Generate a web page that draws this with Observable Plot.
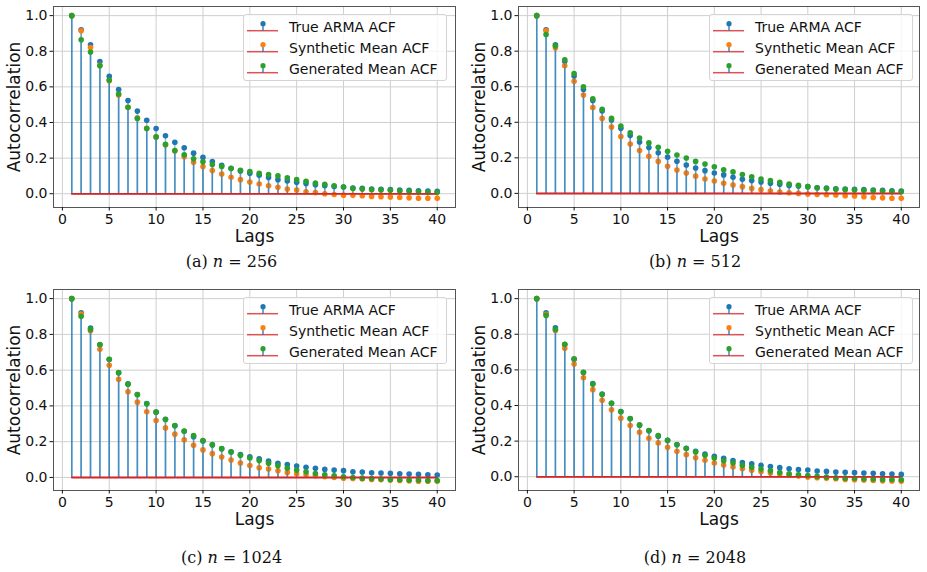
<!DOCTYPE html>
<html>
<head>
<meta charset="utf-8">
<script src="https://cdn.jsdelivr.net/npm/d3@7"></script>
<script src="https://cdn.jsdelivr.net/npm/@observablehq/plot@0.6"></script>
<style>
  html, body { margin: 0; padding: 0; background: #fff; }
  #fig { position: relative; width: 927px; height: 572px; background: #fff; font-family: "DejaVu Sans", sans-serif; }
  .panel { position: absolute; }
  .panel svg { overflow: visible; }
  .legend { position: absolute; top: 14px; width: 204px; box-sizing: border-box; border: 1px solid #d4d4d4; border-radius: 3px; background: rgba(255,255,255,0.8); padding: 1px 0 1px 3px; }
  .legend .row { display: flex; align-items: center; height: 21px; font-size: 14px; color: #111; }
  .legend svg { margin-right: 11px; flex: none; }
  .caption { position: absolute; width: 300px; text-align: center; font-family: "DejaVu Serif", "Liberation Serif", serif; font-size: 16px; color: #111; white-space: nowrap; }
</style>
</head>
<body>
<div id="fig"></div>
<script>
// Lags 1..40 of the autocorrelation function
const lags = [1, 2, 3, 4, 5, 6, 7, 8, 9, 10, 11, 12, 13, 14, 15, 16, 17, 18, 19, 20,
              21, 22, 23, 24, 25, 26, 27, 28, 29, 30, 31, 32, 33, 34, 35, 36, 37, 38, 39, 40];

// Theoretical ACF of the ARMA process (same for every sample length)
const trueAcf = [1.0, 0.921, 0.836, 0.742, 0.660, 0.585, 0.523, 0.464, 0.413, 0.366,
                 0.325, 0.289, 0.258, 0.228, 0.204, 0.181, 0.160, 0.143, 0.128, 0.115,
                 0.104, 0.091, 0.079, 0.072, 0.064, 0.057, 0.051, 0.045, 0.041, 0.038,
                 0.032, 0.030, 0.026, 0.025, 0.023, 0.021, 0.019, 0.017, 0.015, 0.013];

// Mean ACF of the synthetic series, per sample length n
const synthetic256 = [1.0, 0.915, 0.821, 0.721, 0.634, 0.555, 0.485, 0.425, 0.368, 0.319,
                      0.275, 0.240, 0.208, 0.177, 0.153, 0.130, 0.111, 0.092, 0.079, 0.066,
                      0.055, 0.045, 0.036, 0.026, 0.021, 0.011, 0.006, 0.000, -0.004, -0.008,
                      -0.009, -0.011, -0.015, -0.017, -0.019, -0.021, -0.023, -0.025, -0.025, -0.026];
const synthetic512 = [1.0, 0.915, 0.820, 0.718, 0.631, 0.553, 0.483, 0.422, 0.373, 0.320,
                      0.278, 0.241, 0.208, 0.180, 0.153, 0.131, 0.114, 0.097, 0.081, 0.070,
                      0.057, 0.047, 0.038, 0.028, 0.021, 0.013, 0.008, 0.004, 0.000, -0.004,
                      -0.006, -0.008, -0.009, -0.013, -0.015, -0.019, -0.023, -0.025, -0.027, -0.028];
const synthetic1024 = [1.0, 0.914, 0.820, 0.717, 0.627, 0.549, 0.479, 0.421, 0.367, 0.318,
                       0.277, 0.242, 0.210, 0.180, 0.154, 0.133, 0.114, 0.097, 0.081, 0.067,
                       0.054, 0.047, 0.037, 0.028, 0.021, 0.015, 0.009, 0.004, 0.000, -0.004,
                       -0.006, -0.009, -0.011, -0.013, -0.015, -0.017, -0.019, -0.021, -0.021, -0.022];
const synthetic2048 = [1.0, 0.912, 0.821, 0.722, 0.633, 0.556, 0.489, 0.429, 0.376, 0.329,
                       0.288, 0.250, 0.216, 0.190, 0.165, 0.143, 0.124, 0.107, 0.092, 0.077,
                       0.066, 0.055, 0.045, 0.036, 0.028, 0.021, 0.015, 0.009, 0.004, -0.002,
                       -0.006, -0.009, -0.011, -0.015, -0.017, -0.019, -0.021, -0.023, -0.024, -0.026];

// Mean ACF of the generated series, per sample length n
const generated256 = [1.0, 0.864, 0.796, 0.719, 0.638, 0.560, 0.485, 0.423, 0.366, 0.319,
                      0.277, 0.243, 0.219, 0.196, 0.179, 0.164, 0.153, 0.142, 0.132, 0.125,
                      0.115, 0.108, 0.100, 0.089, 0.079, 0.070, 0.060, 0.053, 0.045, 0.038,
                      0.030, 0.026, 0.023, 0.021, 0.019, 0.015, 0.013, 0.011, 0.009, 0.008];
const generated512 = [1.0, 0.894, 0.830, 0.752, 0.674, 0.600, 0.532, 0.473, 0.422, 0.379,
                      0.341, 0.311, 0.284, 0.259, 0.237, 0.216, 0.199, 0.180, 0.165, 0.150,
                      0.133, 0.121, 0.106, 0.093, 0.081, 0.072, 0.063, 0.053, 0.045, 0.038,
                      0.032, 0.027, 0.023, 0.021, 0.019, 0.017, 0.015, 0.013, 0.011, 0.009];
const generated1024 = [1.0, 0.901, 0.828, 0.743, 0.661, 0.586, 0.521, 0.463, 0.412, 0.365,
                       0.324, 0.290, 0.260, 0.234, 0.206, 0.184, 0.161, 0.142, 0.124, 0.109,
                       0.094, 0.079, 0.066, 0.052, 0.041, 0.032, 0.022, 0.015, 0.009, 0.004,
                       0.000, -0.004, -0.006, -0.009, -0.011, -0.013, -0.015, -0.015, -0.017, -0.017];
const generated2048 = [1.0, 0.906, 0.827, 0.744, 0.662, 0.586, 0.519, 0.462, 0.412, 0.365,
                       0.327, 0.291, 0.259, 0.231, 0.205, 0.180, 0.158, 0.139, 0.120, 0.105,
                       0.090, 0.077, 0.064, 0.053, 0.043, 0.034, 0.024, 0.017, 0.011, 0.006,
                       0.002, -0.002, -0.006, -0.008, -0.009, -0.011, -0.013, -0.015, -0.015, -0.017];

// Axis ticks, axis titles, series names, panel letters and sample lengths
const xTicks = [0, 5, 10, 15, 20, 25, 30, 35, 40];
const yTicks = [0.0, 0.2, 0.4, 0.6, 0.8, 1.0];
const xTitle = "Lags";
const yTitle = "Autocorrelation";
const seriesNames = ["True ARMA ACF", "Synthetic Mean ACF", "Generated Mean ACF"];
const panelLetters = ["a", "b", "c", "d"];
const sampleSizes = [256, 512, 1024, 2048];

const markerColors = ["#1f77b4", "#ff7f0e", "#2ca02c"];
const stemColor = "#1f77b4";
const baseColor = "#d62728";

const syntheticByPanel = [synthetic256, synthetic512, synthetic1024, synthetic2048];
const generatedByPanel = [generated256, generated512, generated1024, generated2048];

// Grid placement of the four subplots
const layout = [
  {left: 0,   top: 0,   width: 463, marginLeft: 53, capX: 231.5, capY: 252, legendLeft: 243},
  {left: 463, top: 0,   width: 464, marginLeft: 55, capX: 232,   capY: 252, legendLeft: 246},
  {left: 0,   top: 283, width: 463, marginLeft: 53, capX: 231.5, capY: 265, legendLeft: 243},
  {left: 463, top: 283, width: 464, marginLeft: 55, capX: 232,   capY: 265, legendLeft: 246}
];

const fig = document.getElementById("fig");

function rowsOf(values) {
  return lags.map((lag, i) => ({lag, v: values[i]}));
}

function stemMarks(rows, color) {
  return [
    Plot.ruleX(rows, {x: "lag", y1: 0, y2: "v", stroke: stemColor, strokeWidth: 1.5, strokeOpacity: 0.45}),
    Plot.dot(rows, {x: "lag", y: "v", r: 2.8, fill: color, stroke: "none"}),
    Plot.ruleY([0], {x1: d3.min(lags), x2: d3.max(lags), stroke: baseColor, strokeWidth: 1.5, strokeOpacity: 0.85})
  ];
}

layout.forEach((L, p) => {
  const series = [trueAcf, syntheticByPanel[p], generatedByPanel[p]];
  const lagSpan = d3.max(lags) - d3.min(lags);
  const allVals = series.flat();
  const vSpan = d3.max(allVals) - d3.min(allVals);

  const chart = Plot.plot({
    width: L.width,
    height: 250,
    marginLeft: L.marginLeft,
    marginRight: 8,
    marginTop: 6,
    marginBottom: 43,
    style: {fontFamily: "DejaVu Sans, sans-serif", color: "#111", background: "transparent"},
    x: {domain: [d3.min(lags) - 0.05 * lagSpan, d3.max(lags) + 0.05 * lagSpan]},
    y: {domain: [d3.min(allVals) - 0.05 * vSpan, d3.max(allVals) + 0.05 * vSpan]},
    marks: [
      Plot.gridX(xTicks, {stroke: "#cfcfcf", strokeOpacity: 1, strokeWidth: 1}),
      Plot.gridY(yTicks, {stroke: "#cfcfcf", strokeOpacity: 1, strokeWidth: 1}),
      ...series.flatMap((vals, i) => stemMarks(rowsOf(vals), markerColors[i])),
      Plot.frame({stroke: "#555", strokeWidth: 1}),
      // tick marks and tick labels
      Plot.axisX(xTicks, {tickSize: 3.5, tickPadding: 3, fontSize: 14, label: null, tickFormat: d3.format("d")}),
      Plot.axisY(yTicks, {tickSize: 3.5, tickPadding: 2.5, fontSize: 14, label: null, tickFormat: d3.format(".1f")}),
      // axis titles
      Plot.axisX([], {tickSize: 0, fontSize: 17, label: xTitle, labelAnchor: "center", labelArrow: "none", labelOffset: 34}),
      Plot.axisY([], {tickSize: 0, fontSize: 17, label: yTitle, labelAnchor: "center", labelArrow: "none", labelOffset: 46})
    ]
  });

  const panel = document.createElement("div");
  panel.className = "panel";
  panel.style.left = L.left + "px";
  panel.style.top = L.top + "px";
  panel.style.width = L.width + "px";
  panel.style.height = "289px";
  panel.appendChild(chart);

  // Legend with stem-style handles
  const legend = document.createElement("div");
  legend.className = "legend";
  legend.style.left = L.legendLeft + "px";
  seriesNames.forEach((name, i) => {
    const row = document.createElement("div");
    row.className = "row";
    const ns = "http://www.w3.org/2000/svg";
    const h = document.createElementNS(ns, "svg");
    h.setAttribute("width", 31);
    h.setAttribute("height", 21);
    h.innerHTML =
      `<line x1="0" x2="31" y1="14.7" y2="14.7" stroke="${baseColor}" stroke-width="1.5" stroke-opacity="0.8"/>` +
      `<line x1="16" x2="16" y1="7.7" y2="14.7" stroke="${stemColor}" stroke-width="1.3"/>` +
      `<circle cx="16" cy="7.7" r="2.6" fill="${markerColors[i]}"/>`;
    row.appendChild(h);
    const t = document.createElement("span");
    t.textContent = name;
    row.appendChild(t);
    legend.appendChild(row);
  });
  panel.appendChild(legend);

  // Sub-caption
  const cap = document.createElement("div");
  cap.className = "caption";
  cap.style.left = (L.capX - 150) + "px";
  cap.style.top = L.capY + "px";
  cap.innerHTML = `(${panelLetters[p]}) <i>n</i> = ${sampleSizes[p]}`;
  panel.appendChild(cap);

  fig.appendChild(panel);
});
</script>
</body>
</html>
